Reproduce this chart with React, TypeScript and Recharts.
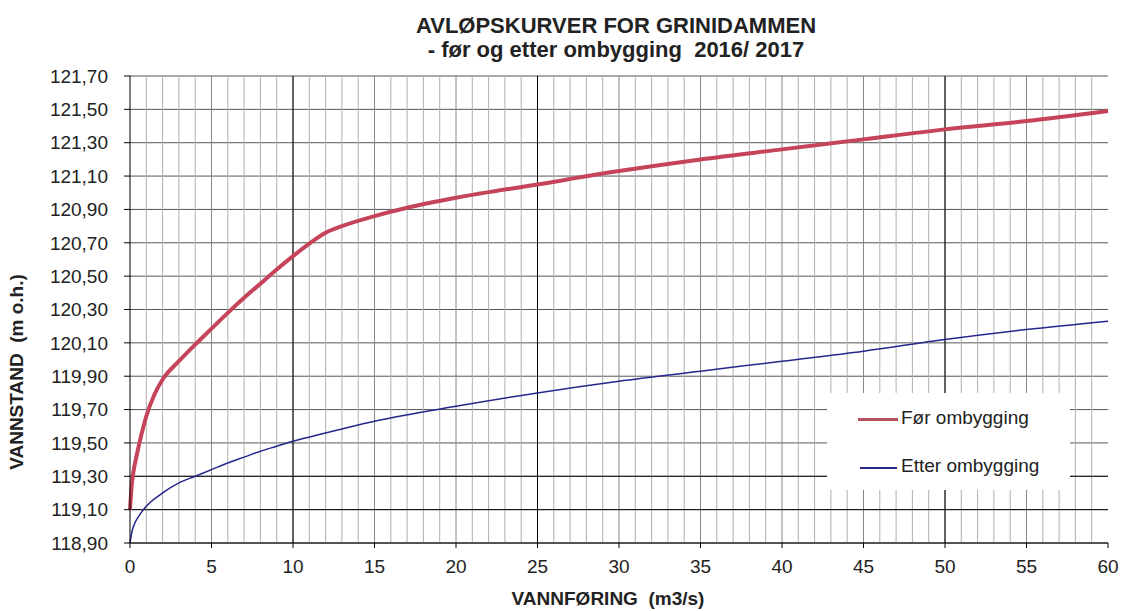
import React from 'react'
import { LineChart, Line, XAxis, YAxis, CartesianGrid, ReferenceLine } from 'recharts'

// Før ombygging (red)
const forQ = [0, 0.1, 0.2, 0.4, 0.7, 1, 1.5, 2, 3, 4, 5, 6, 7, 8, 9, 10, 11, 12, 13, 15, 17, 20, 25, 30, 35, 40, 45, 50, 55, 60]
const forH = [119.1, 119.24, 119.32, 119.42, 119.55, 119.66, 119.79, 119.88, 119.99, 120.09, 120.185, 120.28, 120.37, 120.455, 120.54, 120.62, 120.695, 120.76, 120.8, 120.86, 120.91, 120.97, 121.05, 121.13, 121.2, 121.26, 121.32, 121.38, 121.43, 121.49]

// Etter ombygging (blue)
const etterQ = [0, 0.1, 0.3, 0.6, 1, 2, 3, 4, 5, 6, 7, 8, 9, 10, 12, 15, 20, 25, 30, 35, 40, 45, 50, 55, 60]
const etterH = [118.9, 118.96, 119.02, 119.07, 119.12, 119.2, 119.26, 119.3, 119.34, 119.38, 119.415, 119.45, 119.48, 119.51, 119.56, 119.63, 119.72, 119.8, 119.87, 119.93, 119.99, 120.05, 120.12, 120.18, 120.23]

const xTicks = [0, 5, 10, 15, 20, 25, 30, 35, 40, 45, 50, 55, 60]
const yTicks = [118.9, 119.1, 119.3, 119.5, 119.7, 119.9, 120.1, 120.3, 120.5, 120.7, 120.9, 121.1, 121.3, 121.5, 121.7]
const minorX = Array.from({ length: 59 }, (_, i) => i + 1)
const blackX = [10, 25, 50]
const blackY = [119.1, 119.3]

const forData = forQ.map((q, i) => ({ q, h: forH[i] }))
const etterData = etterQ.map((q, i) => ({ q, h: etterH[i] }))

const FONT = '"Liberation Sans", Arial, sans-serif'
const RED = '#c6445a'
const BLUE = '#26268c'

const fmt = (v: number) => v.toFixed(2).replace('.', ',')

const App: React.FC = () => {
  return (
    <div style={{ position: 'relative', width: 1111, height: 603, fontFamily: FONT, color: '#222' }}>
      <div style={{ position: 'absolute', left: 0, width: 1216, top: 6, textAlign: 'center', fontWeight: 'bold', fontSize: 22, lineHeight: '24px' }}>
        <div>AVLØPSKURVER FOR GRINIDAMMEN</div>
        <div style={{ whiteSpace: 'pre' }}>- før og etter ombygging  2016/ 2017</div>
      </div>
      <LineChart width={1111} height={595} margin={{ top: 68, right: 11, bottom: 20, left: 42 }}>
        <CartesianGrid stroke="#555" vertical={false} />
        {minorX.map((x) => (
          <ReferenceLine key={'v' + x} x={x} stroke={x % 5 === 0 ? '#888' : '#b0b0b0'} strokeWidth={1} />
        ))}
        {blackX.map((x) => (
          <ReferenceLine key={'b' + x} x={x} stroke="#000" strokeWidth={1} />
        ))}
        {blackY.map((y) => (
          <ReferenceLine key={'h' + y} y={y} stroke="#111" strokeWidth={1} />
        ))}
        <XAxis
          dataKey="q"
          type="number"
          domain={[0, 60]}
          ticks={xTicks}
          interval={0}
          allowDuplicatedCategory={false}
          height={40}
          stroke="#000"
          tickSize={5}
          tickMargin={12}
          tick={{ fill: '#222', fontSize: 19, fontFamily: FONT }}
        />
        <YAxis
          type="number"
          domain={[118.9, 121.7]}
          ticks={yTicks}
          interval={0}
          width={80}
          stroke="#000"
          tickSize={6}
          tickMargin={16}
          tickFormatter={fmt}
          tick={{ fill: '#222', fontSize: 19, fontFamily: FONT }}
        />
        <Line data={etterData} dataKey="h" type="monotone" stroke={BLUE} strokeWidth={1.5} dot={false} isAnimationActive={false} />
        <Line data={forData} dataKey="h" type="monotone" stroke={RED} strokeWidth={4} dot={false} isAnimationActive={false} />
      </LineChart>
      <div style={{ position: 'absolute', left: 819, top: 385, width: 243, height: 97, background: '#fff' }}>
        <div style={{ position: 'absolute', left: 31, top: 25, width: 40, height: 3, background: '#b5505e' }} />
        <div style={{ position: 'absolute', left: 74, top: 14, fontSize: 19 }}>Før ombygging</div>
        <div style={{ position: 'absolute', left: 33, top: 74, width: 37, height: 2, background: BLUE }} />
        <div style={{ position: 'absolute', left: 74, top: 62, fontSize: 19 }}>Etter ombygging</div>
      </div>
      <div style={{ position: 'absolute', left: 400, width: 400, top: 580, textAlign: 'center', fontWeight: 'bold', fontSize: 19, whiteSpace: 'pre' }}>
        VANNFØRING  (m3/s)
      </div>
      <div style={{ position: 'absolute', left: 9, top: 364, width: 0, height: 0 }}>
        <div style={{ position: 'absolute', left: -150, top: -11, width: 300, textAlign: 'center', fontWeight: 'bold', fontSize: 19, lineHeight: '22px', transform: 'rotate(-90deg)', whiteSpace: 'pre' }}>
          VANNSTAND  (m o.h.)
        </div>
      </div>
    </div>
  )
}

export default App
